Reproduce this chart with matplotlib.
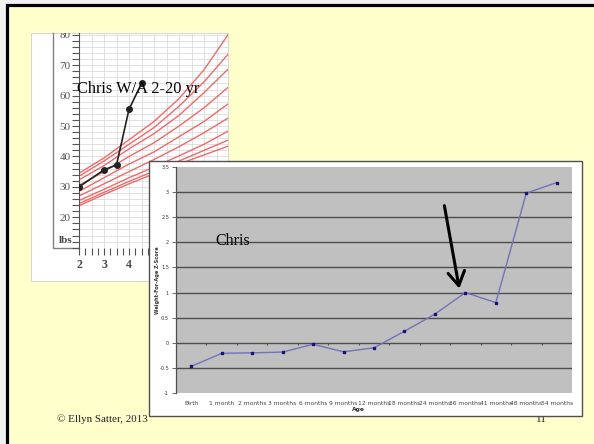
import matplotlib.pyplot as plt
import numpy as np
from matplotlib.patches import Rectangle
from matplotlib.lines import Line2D
from matplotlib.transforms import Bbox, TransformedBbox

# weight-for-age percentile curves, boys 2-20 yr (lbs), 3rd .. 97th
curve_ages = [2, 3, 4, 5, 6, 7, 8]
p03 = [23.8, 27.5, 31.0, 34.3, 37.5, 40.5, 43.5]
p05 = [24.5, 28.2, 31.8, 35.2, 38.5, 42.0, 45.5]
p10 = [25.5, 29.2, 33.0, 36.5, 40.2, 44.0, 48.5]
p25 = [27.0, 31.0, 35.0, 39.0, 43.2, 47.8, 52.8]
p50 = [28.5, 33.0, 37.5, 41.5, 46.5, 51.5, 57.5]
p75 = [30.5, 35.0, 40.0, 44.5, 50.0, 56.0, 63.0]
p90 = [32.3, 37.0, 42.5, 47.5, 53.5, 61.0, 69.0]
p95 = [33.5, 38.5, 44.0, 49.5, 56.5, 64.5, 74.0]
p97 = [34.5, 39.5, 45.5, 51.5, 59.0, 68.5, 80.5]
percentiles = [p03, p05, p10, p25, p50, p75, p90, p95, p97]

# Chris, measured weights
chris_ages = [2, 3, 3.5, 4, 4.5]
chris_lbs = [30, 35.6, 37.2, 55.5, 64]

# Chris, weight-for-age z-scores by visit
visits = ['Birth', '1 month', '2 months', '3 months', '6 months', '9 months',
          '12 months', '18 months', '24 months', '36 months', '41 months',
          '48 months', '54 months']
z_scores = [-0.47, -0.21, -0.20, -0.185, -0.03, -0.18, -0.10, 0.23, 0.57,
            1.00, 0.80, 2.98, 3.19]

W, H = 594, 444
SERIF = 'Liberation Serif'


def frac(x0, y0, x1, y1):
    # pixel box (top-left origin) -> figure fraction rect
    return [x0 / W, 1 - y1 / H, (x1 - x0) / W, (y1 - y0) / H]


def panel(x0, y0, x1, y1, **kw):
    r = Rectangle((x0 / W, 1 - y1 / H), (x1 - x0) / W, (y1 - y0) / H,
                  transform=fig.transFigure, **kw)
    fig.add_artist(r)
    return r


fig = plt.figure(figsize=(W / 100, H / 100), dpi=100)
fig.patch.set_facecolor('#f2f2f2')

# slide background with its border
fig.add_artist(Rectangle((6.5 / W, -0.1), 1.2, 1.1 - 5.5 / H,
                         transform=fig.transFigure, facecolor='#ffffcc',
                         edgecolor='black', lw=2.3, zorder=-2))

# ---- growth chart ----
panel(31, 33, 228, 281, facecolor='white', edgecolor='#c8c8c8',
      lw=0.5, zorder=-1)
growth_clip = TransformedBbox(Bbox.from_extents(31 / W, 1 - 281 / H,
                                                228 / W, 1 - 33 / H),
                              fig.transFigure)
fig.add_artist(Line2D([53 / W, 53 / W, 79 / W],
                      [1 - 33 / H, 1 - 248 / H, 1 - 248 / H],
                      transform=fig.transFigure, color='#808080', lw=1,
                      zorder=-0.5))

gax = fig.add_axes(frac(79, 33, 228, 248))
gax.set_zorder(0)
gax.set_facecolor('none')
gax.set_xlim(2, 7.96)
gax.set_ylim(9.9, 80.6)
for x in np.arange(2.5, 8, 0.5):
    gax.axvline(x, color='#dcdcdc', lw=0.6, zorder=0)
for y in np.arange(10, 81, 2):
    gax.axhline(y, color='#dcdcdc', lw=0.6, zorder=0)

for curve in percentiles:
    gax.plot(curve_ages, curve, color='#ee6a6a', lw=1, zorder=2)
gax.plot(chris_ages, chris_lbs, color='#222222', lw=1.2, marker='o', ms=4,
         zorder=3)

for s in ['top', 'right', 'bottom']:
    gax.spines[s].set_visible(False)
gax.spines['left'].set_color('#555555')
gax.set_yticks(np.arange(20, 81, 10))
gax.set_yticks(np.arange(10, 81, 2), minor=True)
gax.set_xticks(np.arange(2, 8, 1))
gax.set_xticks(np.arange(2, 8, 0.25), minor=True)
gax.tick_params(axis='y', which='both', direction='out', color='#555555',
                length=5, width=0.8, labelsize=8, labelcolor='#555555', pad=1)
gax.tick_params(axis='x', which='both', direction='out', color='#555555',
                length=5, width=0.8, labelsize=8.5, labelcolor='#444444',
                pad=3)
for lbl in gax.get_yticklabels() + gax.get_xticklabels():
    lbl.set_fontfamily(SERIF)
    lbl.set_clip_box(growth_clip)
    lbl.set_clip_on(True)
for lbl in gax.get_xticklabels():
    lbl.set_fontweight('bold')

fig.text(66 / W, 1 - 240 / H, 'lbs', ha='center', va='center',
         family=SERIF, fontweight='bold', fontsize=8, color='#444444')
fig.text(77 / W, 1 - 93 / H, 'Chris W/A 2-20 yr', ha='left',
         va='baseline', family=SERIF, fontsize=11.8, color='black', zorder=1)

# ---- footer ----
fig.text(57 / W, 1 - 419 / H, '\u00a9 Ellyn Satter, 2013', ha='left',
         va='center', family=SERIF, fontsize=7.9, color='#222222', zorder=1)
fig.text(541 / W, 1 - 419 / H, '11', ha='center', va='center',
         family=SERIF, fontsize=8, color='#222222', zorder=1)

# ---- z-score chart ----
panel(149, 161, 582, 416, facecolor='white', edgecolor='#505050', lw=1,
      zorder=2)
zax = fig.add_axes(frac(176, 167, 572, 393), facecolor='#c0c0c0')
zax.set_zorder(3)
xpos = np.arange(len(visits))
zax.set_xlim(-0.5, len(visits) - 0.5)
zax.set_ylim(-1, 3.5)
for y in np.arange(-0.5, 3.01, 0.5):
    zax.axhline(y, color='#4e4e4e', lw=1, zorder=1)
zax.vlines(xpos[:-1] + 0.5, -0.05, 0, color='#4e4e4e', lw=0.8, zorder=1)
zax.plot(xpos, z_scores, color='#7272b8', lw=1, marker='s', ms=1.8,
         mfc='#14147a', mec='#14147a', zorder=3)

for s in ['top', 'right', 'bottom']:
    zax.spines[s].set_visible(False)
zax.spines['left'].set_color('#4e4e4e')
zax.spines['left'].set_linewidth(0.9)
yt = np.arange(-1, 3.51, 0.5)
zax.set_yticks(yt, [f'{v:g}' for v in yt])
zax.set_xticks(xpos, visits)
zax.tick_params(axis='y', length=3, width=0.6, color='#4e4e4e',
                labelsize=3.6, labelcolor='#333333', pad=2)
zax.tick_params(axis='x', length=0, labelsize=4.3, labelcolor='#444444',
                pad=6)

fig.text(158 / W, 1 - 280 / H, 'Weight-For-Age Z-Score', rotation=90,
         ha='center', va='center', fontsize=3.6, fontweight='bold',
         color='#333333', zorder=4)
fig.text(358 / W, 1 - 409 / H, 'Age', ha='center', va='center',
         fontsize=4.3, fontweight='bold', color='#333333', zorder=4)
fig.text(215 / W, 1 - 245 / H, 'Chris', ha='left', va='baseline',
         family=SERIF, fontsize=11.5, color='black', zorder=4)

# arrow pointing at the 36 month visit
k = visits.index('36 months')
zax.annotate('', xy=(k - 0.2, z_scores[k] + 0.08),
             xytext=(k - 0.69, z_scores[k] + 1.73),
             arrowprops=dict(arrowstyle='->,head_length=0.5,head_width=0.3',
                             color='black', lw=2.2, mutation_scale=20,
                             shrinkA=0, shrinkB=0),
             zorder=5)

fig.savefig('out.png', dpi=100)
